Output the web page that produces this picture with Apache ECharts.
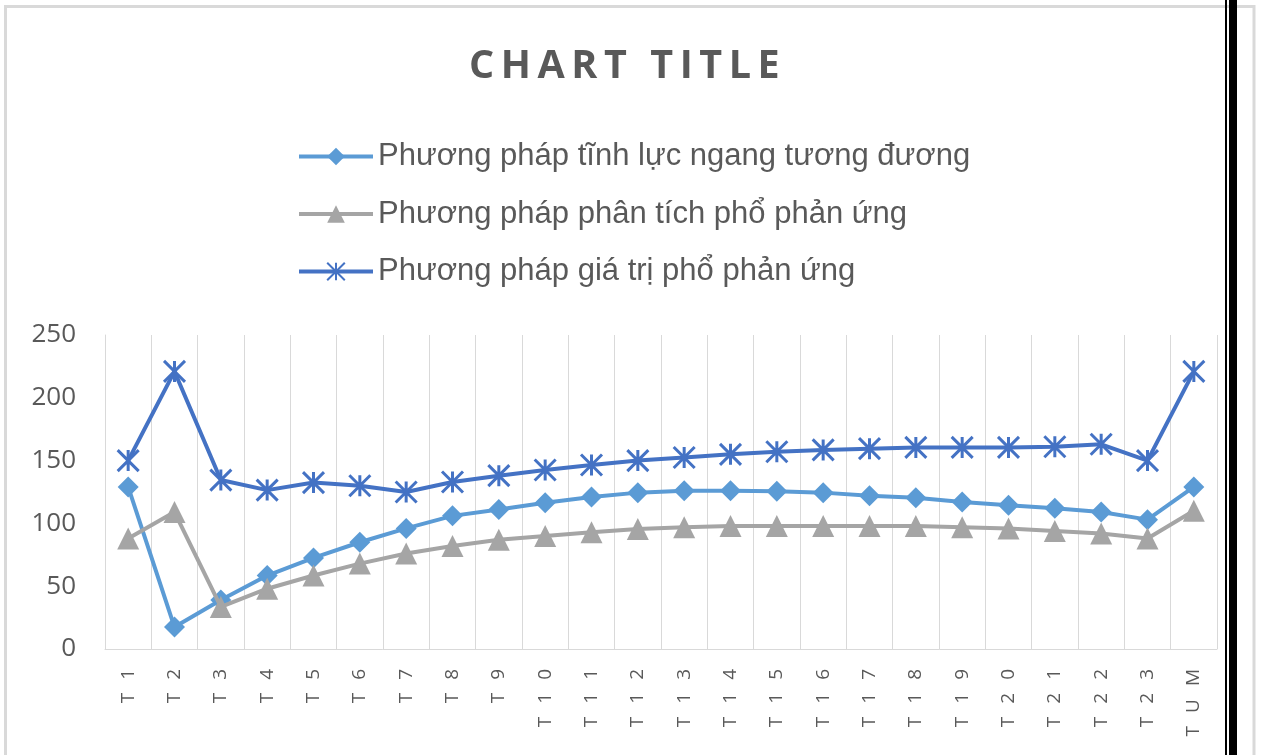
<!DOCTYPE html>
<html>
<head>
<meta charset="utf-8">
<script src="https://cdn.jsdelivr.net/npm/echarts@6/dist/echarts.min.js"></script>
<style>
  html, body { margin: 0; padding: 0; background: #fff; }
  #chart { width: 1265px; height: 755px; }
</style>
</head>
<body>
<div id="chart"></div>
<script>
// Categories along the horizontal axis
const categories = ['T1', 'T2', 'T3', 'T4', 'T5', 'T6', 'T7', 'T8', 'T9', 'T10', 'T11', 'T12',
  'T13', 'T14', 'T15', 'T16', 'T17', 'T18', 'T19', 'T20', 'T21', 'T22', 'T23', 'TUM'];

// Series names
const nameStatic = 'Phương pháp tĩnh lực ngang tương đương';
const nameSpectrumAnalysis = 'Phương pháp phân tích phổ phản ứng';
const nameSpectrumValue = 'Phương pháp giá trị phổ phản ứng';

// Series values
const staticForce = [129, 17.5, 39, 58.5, 72.5, 85, 96, 106, 111, 116.5, 121, 124.5,
  126, 126, 125.5, 124.5, 122, 120.5, 117, 114.5, 112, 109, 103, 129];
const spectrumAnalysis = [88, 109, 33.5, 48, 58.5, 68, 76, 82, 87, 90, 93, 95.5,
  97, 98, 98, 98, 98, 98, 97, 96, 94, 92, 88, 110];
const spectrumValue = [150, 221, 134.5, 126.5, 132.5, 130, 125, 133, 138, 142.5, 146.5, 150,
  152.5, 155, 157, 158.5, 159.5, 160.5, 160.5, 160.5, 161, 163, 150, 221];

// Value axis ticks
const yMin = 0;
const yMax = 250;
const yStep = 50;

const titleText = 'CHART TITLE';

const textGray = '#595959';
const gridGray = '#D9D9D9';
const colStatic = '#5B9BD5';
const colAnalysis = '#A5A5A5';
const colValue = '#4472C4';

// Wide tracking: put a fixed-width space between every letter
const tracked = (s, gap) => s.split('').join(gap);

// Asterisk marker: an X crossed by a vertical stroke
const asteriskPath = 'path://M0,0L20,20M20,0L0,20M10,0L10,20';

const chart = echarts.init(document.getElementById('chart'), null, { renderer: 'canvas' });

chart.setOption({
  backgroundColor: '#ffffff',
  animation: false,
  title: {
    text: tracked(titleText, '\u2009'),
    left: 464,
    top: 42,
    textStyle: {
      fontFamily: 'Open Sans',
      fontWeight: 'bold',
      fontSize: 39.5,
      color: textGray
    }
  },
  legend: {
    orient: 'vertical',
    left: 292,
    top: 136,
    itemWidth: 74,
    itemHeight: 22,
    itemGap: 26.5,
    textStyle: {
      fontFamily: 'Liberation Sans',
      fontSize: 31,
      color: textGray
    },
    data: [
      { name: nameStatic, lineStyle: { color: colStatic, width: 4 } },
      { name: nameSpectrumAnalysis, lineStyle: { color: colAnalysis, width: 4 } },
      { name: nameSpectrumValue, lineStyle: { color: colValue, width: 4 } }
    ]
  },
  grid: {
    left: 105,
    right: 48,
    top: 335,
    bottom: 106,
    containLabel: false
  },
  xAxis: {
    type: 'category',
    data: categories,
    boundaryGap: true,
    axisLine: { show: true, lineStyle: { color: gridGray, width: 1 } },
    axisTick: { show: false },
    splitLine: { show: true, lineStyle: { color: gridGray, width: 1 } },
    axisLabel: {
      rotate: 90,
      margin: 20,
      interval: 0,
      fontFamily: 'Open Sans',
      fontSize: 19,
      color: textGray,
      formatter: (v) => tracked(v, '  \u2009')
    }
  },
  yAxis: {
    type: 'value',
    min: yMin,
    max: yMax,
    interval: yStep,
    axisLine: { show: true, lineStyle: { color: gridGray, width: 1 } },
    axisTick: { show: false },
    splitLine: { show: false },
    axisLabel: {
      margin: 29,
      fontFamily: 'Open Sans',
      fontSize: 26,
      color: textGray
    }
  },
  series: [
    {
      name: nameStatic,
      type: 'line',
      data: staticForce,
      symbol: 'diamond',
      symbolSize: 21,
      lineStyle: { color: colStatic, width: 4 },
      itemStyle: { color: colStatic },
      z: 2
    },
    {
      name: nameSpectrumAnalysis,
      type: 'line',
      data: spectrumAnalysis,
      symbol: 'triangle',
      symbolSize: 22,
      lineStyle: { color: colAnalysis, width: 4 },
      itemStyle: { color: colAnalysis },
      z: 3
    },
    {
      name: nameSpectrumValue,
      type: 'line',
      data: spectrumValue,
      symbol: asteriskPath,
      symbolSize: 21,
      lineStyle: { color: colValue, width: 4 },
      itemStyle: { color: colValue, borderColor: colValue, borderWidth: 3 },
      z: 4
    }
  ],
  graphic: [
    // outer chart frame
    { type: 'line', silent: true, shape: { x1: 5.5, y1: 6.5, x2: 1254, y2: 6.5 }, style: { stroke: gridGray, lineWidth: 3 } },
    { type: 'line', silent: true, shape: { x1: 5.5, y1: 5, x2: 5.5, y2: 755 }, style: { stroke: gridGray, lineWidth: 3 } },
    { type: 'line', silent: true, shape: { x1: 1254, y1: 5, x2: 1254, y2: 755 }, style: { stroke: gridGray, lineWidth: 3 } },
    // dark divider bars on the right
    { type: 'rect', silent: true, shape: { x: 1225, y: 0, width: 2, height: 755 }, style: { fill: '#000' } },
    { type: 'rect', silent: true, shape: { x: 1229, y: 0, width: 8, height: 755 }, style: { fill: '#000' } }
  ]
});
</script>
</body>
</html>
